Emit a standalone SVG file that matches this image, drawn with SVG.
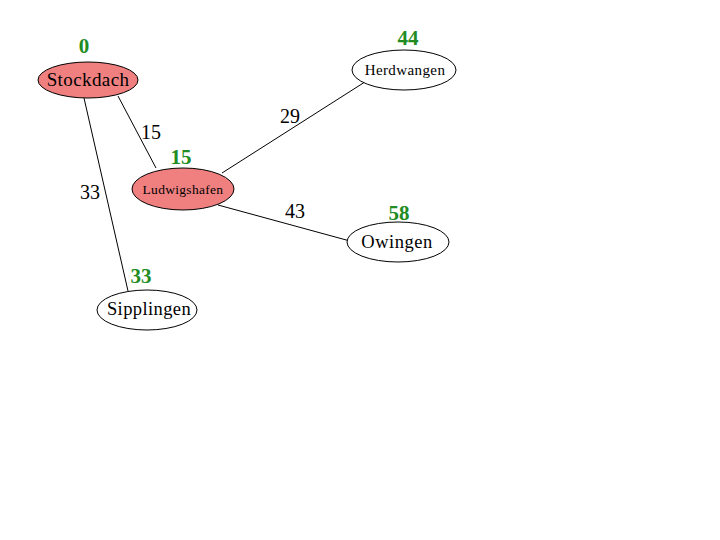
<svg xmlns="http://www.w3.org/2000/svg" width="720" height="540" viewBox="0 0 720 540">
<style>
text{font-family:"Liberation Serif","Times New Roman",serif;text-anchor:middle}
.n{stroke:#000;stroke-width:1}
.hot{fill:#F08080}
.cold{fill:#fff}
.e{stroke:#000;stroke-width:1;fill:none}
.el{font-size:20px;fill:#000}
.g{font-size:21px;font-weight:bold;fill:#228B22}
</style>
<rect width="720" height="540" fill="#fff"/>
<g id="connectors">
<line class="e" x1="84" y1="98" x2="128" y2="291"/>
<line class="e" x1="118" y1="96" x2="156" y2="168"/>
<line class="e" x1="222" y1="173" x2="368" y2="80"/>
<line class="e" x1="218" y1="205" x2="350" y2="241"/>
<text class="el" x="151" y="139">15</text>
<text class="el" x="90" y="199">33</text>
<text class="el" x="290" y="123">29</text>
<text class="el" x="295" y="218">43</text>
</g>
<g id="Stockdach">
<ellipse class="n hot" cx="88" cy="80" rx="50" ry="18"/>
<text x="88" y="86" font-size="19" letter-spacing="0.4">Stockdach</text>
<text class="g" x="84" y="53">0</text>
</g>
<g id="Herdwangen">
<ellipse class="n cold" cx="404" cy="70" rx="52" ry="20"/>
<text x="405" y="75" font-size="15" letter-spacing="0.4">Herdwangen</text>
<text class="g" x="408" y="45">44</text>
</g>
<g id="Ludwigshafen">
<ellipse class="n hot" cx="183" cy="189" rx="51" ry="21"/>
<text x="183" y="194" font-size="13.5" letter-spacing="0.3">Ludwigshafen</text>
<text class="g" x="181" y="164">15</text>
</g>
<g id="Owingen">
<ellipse class="n cold" cx="398" cy="242" rx="51" ry="20"/>
<text x="397" y="248" font-size="18.5" letter-spacing="0.5">Owingen</text>
<text class="g" x="399" y="220">58</text>
</g>
<g id="Sipplingen">
<ellipse class="n cold" cx="147" cy="310" rx="50" ry="20"/>
<text x="149" y="315" font-size="18.5" letter-spacing="0.4">Sipplingen</text>
<text class="g" x="141" y="283">33</text>
</g>
</svg>
